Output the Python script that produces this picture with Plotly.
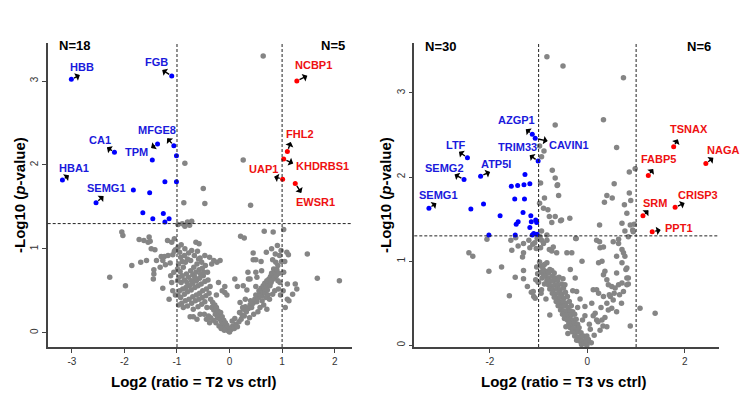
import plotly.graph_objects as go

# ---------------- DATA ----------------
# Panel 1: T2 vs ctrl
t2_gray = [
    (0.64, 3.30), (-0.85, 2.02), (0.26, 2.06), (-0.50, 1.72), (-0.87, 1.55), (-0.47, 1.54), (0.40, 1.52),
    (-0.98, 1.29), (-0.90, 1.30), (-0.80, 1.32), (-0.72, 1.33), (-0.76, 1.28), (-0.85, 1.27),
    (0.83, 1.20), (1.03, 1.23), (0.66, 1.21), (0.21, 1.15), (0.28, 1.13),
    (-2.05, 1.20), (-2.03, 1.16), (-1.72, 1.11), (-1.63, 1.10), (-1.55, 1.08), (-1.53, 1.14), (-1.51, 1.09),
    (-1.49, 1.00), (-1.42, 0.99), (-1.18, 1.10), (-1.10, 1.08), (-1.05, 1.12),
    (-1.86, 0.80), (-1.69, 0.84), (-1.58, 0.86), (-1.39, 0.86), (-2.28, 0.66), (-1.98, 0.56),
    (-1.44, 0.75), (-1.44, 0.70), (-1.45, 0.64), (-1.27, 0.53), (-1.10, 0.60),
    (-1.30, 0.91), (-1.24, 0.91), (-1.17, 0.92), (-1.27, 0.86), (-1.32, 0.78), (-1.22, 0.81), (-1.13, 0.83),
    (-1.05, 0.97), (-1.08, 0.93), (-1.03, 0.99), (-1.06, 0.72), (-1.12, 0.68), (-1.03, 0.45), (-1.08, 0.50),
    (-1.15, 0.40),
    (-0.98, 1.02), (-0.95, 0.96), (-0.93, 0.90), (-0.86, 0.92), (-0.90, 0.85), (-0.97, 0.82), (-0.99, 0.76),
    (-0.94, 0.73), (-0.88, 0.78), (-0.84, 0.84), (-0.80, 0.88), (-0.78, 0.95), (-0.72, 0.98), (-0.64, 1.08),
    (-0.58, 1.06), (-0.59, 0.88), (-0.56, 0.89), (-0.53, 0.84), (-0.62, 0.82), (-0.47, 0.92), (-0.68, 0.78),
    (-0.74, 0.74), (-0.82, 0.70), (-0.90, 0.68), (-0.96, 0.66), (-0.99, 0.62), (-0.92, 0.60), (-0.86, 0.63),
    (-0.78, 0.66), (-0.70, 0.69), (-0.64, 0.72), (-0.58, 0.75), (-0.52, 0.77), (-0.46, 0.80), (-0.42, 0.72),
    (-0.50, 0.68), (-0.57, 0.65), (-0.63, 0.62), (-0.70, 0.59), (-0.76, 0.56), (-0.83, 0.54), (-0.89, 0.52),
    (-0.95, 0.50), (-0.98, 0.45), (-0.93, 0.42), (-0.86, 0.46), (-0.80, 0.49), (-0.73, 0.51), (-0.66, 0.54),
    (-0.60, 0.56), (-0.54, 0.58), (-0.47, 0.61), (-0.41, 0.63), (-0.37, 0.55), (-0.44, 0.52), (-0.51, 0.50),
    (-0.57, 0.47), (-0.63, 0.45), (-0.70, 0.43), (-0.77, 0.40), (-0.84, 0.38), (-0.91, 0.35), (-0.97, 0.33),
    (-0.88, 0.30), (-0.80, 0.32), (-0.72, 0.35), (-0.65, 0.38), (-0.58, 0.40), (-0.52, 0.42), (-0.45, 0.44),
    (-0.39, 0.47), (-0.34, 0.82), (-0.30, 0.86), (-0.24, 0.84), (-0.38, 0.90), (-0.67, 0.92), (-0.74, 0.86),
    (-0.61, 0.97), (-0.85, 1.00), (-0.92, 1.05), (-0.55, 0.70), (-0.49, 0.72), (-0.66, 0.66), (-0.72, 0.62),
    (-0.81, 0.60), (-0.60, 0.31), (-0.53, 0.34), (-0.47, 0.37), (-0.43, 0.30), (-0.69, 0.28),
    (-0.75, 0.19), (-0.69, 0.19), (-0.56, 0.22), (-0.62, 0.16),
    (-0.36, 0.40), (-0.32, 0.36), (-0.28, 0.33), (-0.34, 0.30), (-0.30, 0.27), (-0.25, 0.30), (-0.22, 0.26),
    (-0.27, 0.22), (-0.20, 0.21), (-0.17, 0.24), (-0.23, 0.18), (-0.18, 0.16), (-0.14, 0.19), (-0.15, 0.13),
    (-0.11, 0.15), (-0.12, 0.10), (-0.08, 0.12), (-0.09, 0.07), (-0.05, 0.09), (-0.06, 0.04), (-0.03, 0.06),
    (-0.02, 0.02), (0.00, 0.01), (-0.40, 0.20), (-0.36, 0.18), (-0.48, 0.22), (-0.44, 0.16), (-0.38, 0.12),
    (-0.31, 0.15), (-0.26, 0.12), (-0.20, 0.08), (-0.16, 0.05), (-0.10, 0.03), (-0.09, 0.55), (-0.05, 0.45),
    (-0.18, 0.86), (-0.21, 0.60), (-0.14, 0.50), (-0.25, 0.45),
    (0.03, 0.04), (0.06, 0.08), (0.09, 0.05), (0.12, 0.10), (0.15, 0.07), (0.05, 0.14), (0.10, 0.17),
    (0.18, 0.13), (0.22, 0.16), (0.24, 0.21), (0.19, 0.24), (0.28, 0.20), (0.32, 0.25), (0.26, 0.28),
    (0.30, 0.31), (0.36, 0.29), (0.39, 0.33), (0.42, 0.30), (0.45, 0.35), (0.40, 0.38), (0.48, 0.40),
    (0.52, 0.37), (0.55, 0.42), (0.50, 0.45), (0.58, 0.46), (0.56, 0.50), (0.61, 0.44), (0.63, 0.49),
    (0.60, 0.53), (0.66, 0.52), (0.64, 0.56), (0.68, 0.48), (0.70, 0.55), (0.67, 0.59), (0.72, 0.51),
    (0.74, 0.58), (0.71, 0.62), (0.77, 0.56), (0.75, 0.64), (0.79, 0.60), (0.78, 0.67), (0.81, 0.63),
    (0.83, 0.69), (0.80, 0.71), (0.85, 0.65), (0.87, 0.72), (0.84, 0.76), (0.89, 0.68), (0.90, 0.75),
    (0.92, 0.80), (0.88, 0.84), (0.94, 0.71), (0.96, 0.60), (0.93, 0.52), (0.97, 0.45), (0.62, 0.38),
    (0.69, 0.42), (0.73, 0.45), (0.76, 0.40), (0.82, 0.46), (0.86, 0.50), (0.58, 0.30), (0.65, 0.33),
    (0.71, 0.28), (0.54, 0.25), (0.46, 0.22), (0.38, 0.18), (0.34, 0.12), (0.20, 0.36), (0.25, 0.30),
    (0.10, 0.64), (0.39, 0.64), (0.26, 0.56), (0.50, 0.55), (0.45, 0.87), (0.50, 0.87), (0.82, 0.87),
    (0.50, 0.72), (0.61, 0.74), (0.70, 0.96), (0.87, 0.94), (0.91, 1.04), (-0.09, 0.48), (0.30, 0.40),
    (0.45, 0.95), (0.80, 1.00), (0.95, 0.92), (0.15, 0.55), (0.35, 0.72), (0.60, 0.85), (0.99, 0.85),
    (0.98, 0.98), (0.92, 0.62), (0.36, 0.64), (0.52, 0.66), (0.33, 0.51),
    (1.09, 0.96), (1.12, 0.93), (1.48, 0.94), (1.67, 0.65), (2.09, 0.62), (1.10, 0.58), (1.25, 0.58),
    (1.28, 0.52), (1.20, 0.46), (1.10, 0.40), (1.13, 0.38), (1.02, 0.50), (1.05, 0.85), (1.03, 0.72),
    (1.06, 0.30),
]
t2_down_x = [-3.01, -1.10, -2.19, -1.06, -1.37, -1.01, -1.47, -3.18, -1.23, -1.01, -1.83, -1.52, -2.54,
             -1.65, -1.46, -1.26, -1.23, -1.15]
t2_down_y = [3.02, 3.06, 2.15, 2.23, 2.25, 2.11, 2.06, 1.82, 1.80, 1.80, 1.70, 1.67, 1.55,
             1.43, 1.36, 1.42, 1.32, 1.36]
t2_down_lab = ["HBB", "FGB", "CA1", "MFGE8", "TPM", "", "", "HBA1", "", "", "", "", "SEMG1",
               "", "", "", "", ""]
t2_up_x = [1.28, 1.10, 1.03, 1.01, 1.25]
t2_up_y = [3.00, 2.16, 2.07, 1.83, 1.78]
t2_up_lab = ["NCBP1", "FHL2", "KHDRBS1", "UAP1", "EWSR1"]

# Panel 2: T3 vs ctrl
t3_gray = [
    (-0.83, 3.43), (-0.50, 3.32), (0.74, 3.18), (0.33, 2.68), (-0.66, 2.62), (0.60, 2.35),
    (-0.98, 2.37), (-0.89, 2.31), (-0.94, 2.24), (-0.72, 2.08), (-0.66, 1.99), (-0.61, 1.91), (-0.96, 1.93),
    (-0.62, 1.90), (0.86, 2.06), (0.98, 2.10), (0.55, 1.92), (0.40, 1.78), (0.51, 1.75), (0.35, 1.70),
    (0.86, 1.81), (0.89, 1.72), (0.76, 1.67), (0.81, 1.57),
    (-0.88, 1.75), (-0.59, 1.78), (-0.98, 1.69), (-0.90, 1.63), (-0.81, 1.61), (-0.78, 1.53), (-0.66, 1.53),
    (-0.73, 1.46), (-0.55, 1.48), (-0.36, 1.51), (-0.53, 1.49), (-0.94, 1.36), (-0.83, 1.31),
    (0.25, 1.43), (0.71, 1.45), (0.88, 1.43), (0.96, 1.44), (0.77, 1.36), (0.93, 1.37), (0.94, 1.35),
    (-2.43, 1.10), (-2.35, 1.06), (-2.06, 1.26), (-2.02, 0.88), (-1.76, 0.93), (-1.60, 0.59), (-1.48, 0.81),
    (-1.57, 1.25), (-1.47, 1.28), (-1.55, 1.13), (-1.42, 1.18), (-1.31, 1.21), (-1.31, 1.10), (-1.33, 1.05),
    (-1.31, 0.89), (-1.31, 0.79), (-1.23, 0.70), (-1.15, 0.63), (-1.10, 0.58), (-1.07, 0.56), (-1.20, 1.25),
    (-1.12, 1.20), (-1.05, 1.15), (-1.18, 1.16), (-1.03, 1.27), (-1.08, 1.22), (-1.04, 0.93), (-1.02, 0.85),
    (-1.06, 0.78), (-1.01, 0.75), (-1.11, 0.64),
    (-0.97, 1.29), (-0.94, 1.25), (-0.90, 1.21), (-0.78, 1.14), (-0.73, 1.12), (-0.63, 1.10), (-0.42, 1.10),
    (-0.32, 1.10), (-0.23, 1.27), (-0.11, 1.00), (-0.70, 1.17), (-0.83, 1.25), (-0.96, 1.16), (-0.24, 1.27),
    (-0.94, 0.94), (-0.83, 0.98), (-0.77, 0.90), (-0.88, 0.96), (-0.98, 0.99), (-0.91, 0.91),
    (-0.95, 0.87), (-0.86, 0.88), (-0.80, 0.86), (-0.73, 0.89), (-0.90, 0.84), (-0.68, 0.86),
    (-0.93, 0.80), (-0.86, 0.82), (-0.79, 0.80), (-0.72, 0.82), (-0.65, 0.80), (-0.58, 0.81), (-0.83, 0.77),
    (-0.76, 0.76), (-0.69, 0.77), (-0.61, 0.77), (-0.50, 0.79),
    (-0.88, 0.73), (-0.80, 0.72), (-0.74, 0.70), (-0.67, 0.72), (-0.60, 0.71), (-0.53, 0.73), (-0.46, 0.72),
    (-0.77, 0.67), (-0.70, 0.66), (-0.63, 0.67), (-0.56, 0.66), (-0.49, 0.68),
    (-0.72, 0.62), (-0.66, 0.61), (-0.59, 0.62), (-0.52, 0.61), (-0.45, 0.63), (-0.68, 0.57), (-0.61, 0.56),
    (-0.55, 0.57), (-0.48, 0.56), (-0.41, 0.58),
    (-0.64, 0.52), (-0.57, 0.51), (-0.50, 0.52), (-0.44, 0.50), (-0.37, 0.52), (-0.60, 0.47), (-0.53, 0.46),
    (-0.47, 0.47), (-0.40, 0.45), (-0.33, 0.47),
    (-0.55, 0.42), (-0.49, 0.41), (-0.43, 0.40), (-0.36, 0.41), (-0.30, 0.40), (-0.51, 0.37), (-0.45, 0.36),
    (-0.39, 0.35), (-0.33, 0.36), (-0.26, 0.37),
    (-0.47, 0.32), (-0.41, 0.30), (-0.35, 0.31), (-0.29, 0.30), (-0.23, 0.31), (-0.38, 0.26), (-0.32, 0.25),
    (-0.26, 0.26), (-0.20, 0.25), (-0.44, 0.22),
    (-0.35, 0.21), (-0.29, 0.20), (-0.23, 0.20), (-0.17, 0.21), (-0.31, 0.16), (-0.25, 0.15), (-0.19, 0.16),
    (-0.13, 0.15), (-0.40, 0.14),
    (-0.26, 0.11), (-0.20, 0.10), (-0.14, 0.10), (-0.08, 0.11), (-0.22, 0.06), (-0.16, 0.05), (-0.10, 0.05),
    (-0.04, 0.06), (-0.12, 0.01), (-0.06, 0.02), (-0.01, 0.00), (-0.02, 0.04),
    (-0.77, 0.36), (-0.85, 0.55), (-0.95, 0.62), (-1.00, 0.75), (-0.94, 0.66),
    (-0.35, 0.90), (-0.25, 0.80), (-0.30, 0.65), (-0.15, 0.55), (-0.20, 0.45), (-0.05, 0.35), (-0.10, 0.30),
    (0.19, 1.25), (0.26, 1.16), (0.33, 1.17), (0.23, 0.98), (0.30, 1.00), (0.36, 0.88), (0.33, 0.84),
    (0.40, 0.78), (0.43, 0.72), (0.50, 0.70), (0.57, 0.68), (0.64, 0.72), (0.71, 0.74), (0.74, 0.64),
    (0.81, 0.72), (0.84, 0.80), (0.60, 0.86), (0.47, 0.58), (0.53, 0.54), (0.19, 0.66), (0.23, 0.62),
    (0.12, 0.66), (0.09, 0.50), (-0.05, 0.46), (-0.22, 0.64), (0.16, 0.38), (0.19, 0.30), (0.30, 0.30),
    (0.32, 0.23), (0.06, 0.19), (-0.01, 0.11), (0.02, 0.07), (0.53, 1.23), (0.64, 1.21), (0.71, 1.14),
    (0.74, 1.10), (0.77, 1.06), (0.60, 1.06), (0.71, 0.98), (0.81, 0.92), (0.84, 1.29), (0.33, 0.58),
    (0.40, 0.50), (0.43, 0.42), (0.50, 0.44), (0.88, 0.23), (1.08, 0.44), (1.39, 0.38),
    (0.12, 0.35), (0.22, 0.28), (0.26, 0.18), (0.14, 0.12), (0.08, 0.03), (0.36, 0.33), (0.40, 0.22),
    (0.25, 1.23), (0.64, 1.26), (0.79, 0.90), (0.81, 0.80), (0.84, 0.73), (0.70, 0.50), (0.66, 0.60),
    (0.55, 0.62), (0.45, 0.60), (0.28, 0.45), (0.04, 0.25), (0.60, 0.40),
]
t3_down_x = [-1.13, -1.07, -1.01, -2.46, -2.53, -2.19, -3.25, -1.28, -1.56, -1.43, -1.30, -1.18,
             -1.49, -1.29, -2.13, -2.39, -1.32, -1.79, -1.16, -1.06, -1.15, -1.04, -1.46, -1.42,
             -1.18, -2.02, -1.48, -1.10, -1.03, -1.13]
t3_down_y = [2.51, 2.46, 2.19, 2.23, 1.97, 2.01, 1.63, 2.03, 1.89, 1.90, 1.91, 1.92,
             1.74, 1.74, 1.68, 1.62, 1.58, 1.54, 1.54, 1.49, 1.47, 1.46, 1.44, 1.47,
             1.40, 1.31, 1.31, 1.33, 1.32, 1.31]
t3_down_lab = ["AZGP1", "CAVIN1", "TRIM33", "LTF", "SEMG2", "ATP5I", "SEMG1", "", "", "", "", "",
               "", "", "", "", "", "", "", "", "", "", "", "",
               "", "", "", "", "", ""]
t3_up_x = [1.77, 2.43, 1.25, 1.80, 1.14, 1.33]
t3_up_y = [2.36, 2.16, 2.02, 1.64, 1.54, 1.35]
t3_up_lab = ["TSNAX", "NAGA", "FABP5", "CRISP3", "SRM", "PPT1"]

counts = {"t2": ("N=18", "N=5"), "t3": ("N=30", "N=6")}
x_titles = ["Log2 (ratio = T2 vs ctrl)", "Log2 (ratio = T3 vs ctrl)"]
y_title = "-Log10 (<i>p</i>-value)"
t2_xticks = [-3, -2, -1, 0, 1, 2]
t3_xticks = [-2, 0, 2]
yticks = [0, 1, 2, 3]
fc_cut = 1.0
p_cut = 1.30103

# ---------------- STYLE / LAYOUT HELPERS ----------------
# label offsets in screen pixels: (label dx, label dy, arrow-tip dx, arrow-tip dy)
offsets = {
    ("t2", "HBB"): (11, -12, 10, -5), ("t2", "FGB"): (-15, -14, -11, -7),
    ("t2", "MFGE8"): (-17, -16, -8, -9), ("t2", "TPM"): (-21, 8, -8, 5),
    ("t2", "CA1"): (-14, -12, -9, -6), ("t2", "HBA1"): (12, -12, 8, -6),
    ("t2", "SEMG1"): (10, -15, 9, -8), ("t2", "NCBP1"): (17, -16, 12, -6),
    ("t2", "FHL2"): (13, -18, 4, -11), ("t2", "KHDRBS1"): (39, 7, 11, 5),
    ("t2", "UAP1"): (-19, -10, -10, -3), ("t2", "EWSR1"): (20, 19, 7, 11),
    ("t3", "AZGP1"): (-16, -14, -8, -6), ("t3", "CAVIN1"): (34, 7, 14, 3),
    ("t3", "TRIM33"): (-21, -14, -10, -7), ("t3", "LTF"): (-11, -13, -10, -7),
    ("t3", "SEMG2"): (-20, -12, -11, -6), ("t3", "ATP5I"): (15, -12, 11, -5),
    ("t3", "SEMG1"): (10, -13, 9, -6), ("t3", "TSNAX"): (15, -18, 5, -9),
    ("t3", "NAGA"): (17, -14, 9, -7), ("t3", "FABP5"): (10, -16, 6, -8),
    ("t3", "CRISP3"): (23, -12, 11, -5), ("t3", "SRM"): (12, -13, 7, -7),
    ("t3", "PPT1"): (27, -4, 10, -2),
}

W, H = 747, 400
GRAY = "#858585"
BLUE = "#0000FF"
RED = "#FF0000"
BLUE_TXT = "#1A1ADC"
RED_TXT = "#EE1111"
FONT = "Liberation Sans, Arial, sans-serif"

fig = go.Figure()

panels = [
    ("t2", "x", "y", t2_gray, t2_down_x, t2_down_y, t2_down_lab, t2_up_x, t2_up_y, t2_up_lab),
    ("t3", "x2", "y2", t3_gray, t3_down_x, t3_down_y, t3_down_lab, t3_up_x, t3_up_y, t3_up_lab),
]

annotations = []
shapes = []
for key, xa, ya, gray, dx_, dy_, dl, ux, uy, ul in panels:
    gx = [p[0] for p in gray]
    gy = [p[1] for p in gray]
    fig.add_trace(go.Scatter(x=gx, y=gy, mode="markers", xaxis=xa, yaxis=ya,
                             marker=dict(color=GRAY, size=5.5, line=dict(width=0)),
                             cliponaxis=False, hoverinfo="skip"))
    fig.add_trace(go.Scatter(x=dx_, y=dy_, mode="markers", xaxis=xa, yaxis=ya,
                             marker=dict(color=BLUE, size=5, line=dict(width=0)),
                             cliponaxis=False))
    fig.add_trace(go.Scatter(x=ux, y=uy, mode="markers", xaxis=xa, yaxis=ya,
                             marker=dict(color=RED, size=5, line=dict(width=0)),
                             cliponaxis=False))
    for xs, ys, labs, col in ((dx_, dy_, dl, BLUE_TXT), (ux, uy, ul, RED_TXT)):
        for xv, yv, lab in zip(xs, ys, labs):
            if not lab:
                continue
            ldx, ldy, adx, ady = offsets[(key, lab)]
            annotations.append(dict(x=xv, y=yv, xref=xa, yref=ya, text="<b>%s</b>" % lab,
                                    showarrow=False, xshift=ldx, yshift=-ldy,
                                    font=dict(family=FONT, size=11, color=col)))
            annotations.append(dict(x=xv, y=yv, xref=xa, yref=ya, text="",
                                    showarrow=True, ax=adx, ay=ady, axref="pixel", ayref="pixel",
                                    arrowside="start", arrowhead=2, arrowsize=0.9, arrowwidth=1.4,
                                    arrowcolor="#000000", standoff=3, startstandoff=0))
    # threshold lines
    for xv in (-fc_cut, fc_cut):
        shapes.append(dict(type="line", xref=xa, yref=ya + " domain", x0=xv, x1=xv, y0=0, y1=1,
                           line=dict(color="#222222", width=1, dash="3px,2px")))
    shapes.append(dict(type="line", xref=xa + " domain", yref=ya, x0=0, x1=1, y0=p_cut, y1=p_cut,
                       line=dict(color="#222222", width=1, dash="3px,2px")))

# N counts
for (txt, px, py) in ((counts["t2"][0], 74, 45), (counts["t2"][1], 333, 45),
                      (counts["t3"][0], 440, 46), (counts["t3"][1], 699, 46)):
    annotations.append(dict(x=px / W, y=1 - py / H, xref="paper", yref="paper", text="<b>%s</b>" % txt,
                            showarrow=False, font=dict(family=FONT, size=13, color="#000000"),
                            xanchor="center", yanchor="middle"))

# axis titles
for txt, px in ((x_titles[0], 193), (x_titles[1], 563)):
    annotations.append(dict(x=px / W, y=1 - 381 / H, xref="paper", yref="paper", text="<b>%s</b>" % txt,
                            showarrow=False, font=dict(family=FONT, size=15, color="#000000"),
                            xanchor="center", yanchor="middle"))
for px in (19, 385):
    annotations.append(dict(x=px / W, y=1 - 195 / H, xref="paper", yref="paper",
                            text="<b>%s</b>" % y_title, textangle=-90,
                            showarrow=False, font=dict(family=FONT, size=15, color="#000000"),
                            xanchor="center", yanchor="middle"))

axis_common = dict(showline=True, linecolor="#444444", linewidth=1.5, ticks="outside", ticklen=4,
                   tickwidth=1, tickcolor="#444444", showgrid=False, zeroline=False,
                   tickfont=dict(family=FONT, size=10, color="#333333"), mirror=False)
ydom = [1 - 347 / H, 1 - 43.3 / H]

fig.update_layout(
    width=W, height=H, margin=dict(l=0, r=0, t=0, b=0),
    paper_bgcolor="white", plot_bgcolor="white", showlegend=False,
    xaxis=dict(domain=[47.7 / W, 352 / W], range=[-3.46, 2.33], anchor="y",
               tickvals=t2_xticks, ticktext=[str(v) for v in t2_xticks], **axis_common),
    yaxis=dict(domain=ydom, range=[-0.17, 3.45], anchor="x", tickangle=-90,
               tickvals=yticks, ticktext=[str(v) for v in yticks], **axis_common),
    xaxis2=dict(domain=[414.3 / W, 719 / W], range=[-3.55, 2.70], anchor="y2",
                tickvals=t3_xticks, ticktext=[str(v) for v in t3_xticks], **axis_common),
    yaxis2=dict(domain=ydom, range=[-0.02, 3.59], anchor="x2", tickangle=-90,
                tickvals=yticks, ticktext=[str(v) for v in yticks], **axis_common),
    annotations=annotations, shapes=shapes,
)

fig.write_html("out.html", config={"displayModeBar": False},
               post_script="document.body.style.margin='0';document.body.style.overflow='hidden';")
